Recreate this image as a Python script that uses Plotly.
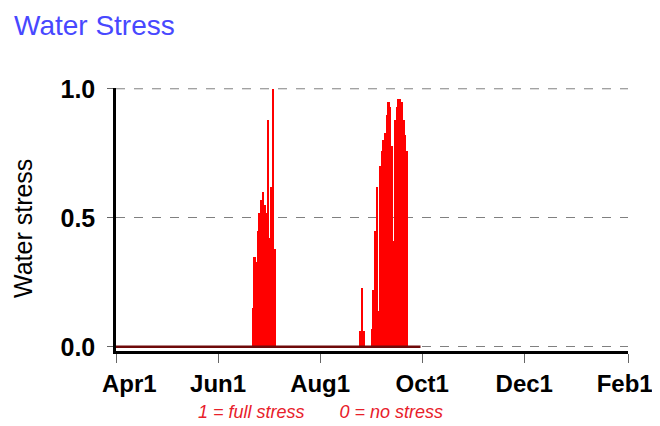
import plotly.graph_objects as go

# Daily water stress (1 = full stress, 0 = no stress); days not listed are 0
stress_dates = [
    "2001-06-22", "2001-06-23", "2001-06-24", "2001-06-25", "2001-06-26", "2001-06-27",
    "2001-06-28", "2001-06-29", "2001-06-30", "2001-07-01", "2001-07-02", "2001-07-03",
    "2001-07-04", "2001-07-05",
    "2001-08-25", "2001-08-26", "2001-08-27",
    "2001-09-01", "2001-09-02", "2001-09-03", "2001-09-04", "2001-09-05", "2001-09-06",
    "2001-09-07", "2001-09-08", "2001-09-09", "2001-09-10", "2001-09-11", "2001-09-12",
    "2001-09-13", "2001-09-14", "2001-09-15", "2001-09-16", "2001-09-17", "2001-09-18",
    "2001-09-19", "2001-09-20", "2001-09-21", "2001-09-22",
]
stress_values = [
    0.15, 0.35, 0.33, 0.45, 0.52, 0.57,
    0.60, 0.55, 0.52, 0.88, 0.42, 0.62,
    1.00, 0.38,
    0.06, 0.23, 0.06,
    0.07, 0.22, 0.45, 0.62, 0.14, 0.70,
    0.76, 0.80, 0.83, 0.90, 0.95, 0.93,
    0.78, 0.41, 0.88, 0.93, 0.96, 0.96,
    0.95, 0.88, 0.82, 0.76,
]
baseline_dates = ["2001-04-01", "2001-09-30"]
baseline_values = [0, 0]

tick_dates = ["2001-04-01", "2001-06-01", "2001-08-01", "2001-10-01", "2001-12-01", "2002-02-01"]
tick_labels = ["&nbsp;&nbsp;&nbsp;&nbsp;Apr1", "Jun1", "Aug1", "Oct1", "Dec1", "Feb1&nbsp;"]
y_ticks = [0.0, 0.5, 1.0]
y_tick_labels = ["0.0", "0.5", "1.0"]

FONT = "Liberation Sans, Arial, sans-serif"
# the page body adds an 8px offset; size the figure so it fills the 660x426 window
OFF = 8
W, H = 660 - OFF, 426 - OFF
ML, MR, MT, MB = 116 - OFF, 32, 88 - OFF, 75
PW, PH = W - ML - MR, H - MT - MB


def px(x):
    return (x - OFF - ML) / PW


def py(y):
    return (H - MB - (y - OFF)) / PH


fig = go.Figure()
fig.add_trace(go.Bar(
    x=stress_dates, y=stress_values,
    width=86400000 * 1.08,
    marker=dict(color="#ff0000", line=dict(color="#ff2a2a", width=0)),
    showlegend=False,
))
fig.add_trace(go.Scatter(
    x=baseline_dates, y=baseline_values, mode="lines",
    line=dict(color="#6e0a0a", width=2.5), showlegend=False,
))

fig.update_layout(
    width=W, height=H,
    margin=dict(l=ML, r=MR, t=MT, b=MB),
    paper_bgcolor="white", plot_bgcolor="white",
    bargap=0,
    font=dict(family=FONT, color="black"),
    shapes=[
        dict(type="line", xref="paper", yref="y", x0=0, x1=1, y0=y_ticks[-1], y1=y_ticks[-1],
             line=dict(color="#808080", width=1, dash="dash"), layer="below"),
    ],
    annotations=[
        dict(text="Water Stress", x=px(12), y=py(25), xref="paper", yref="paper",
             showarrow=False, font=dict(size=28, color="#4848ff", family=FONT),
             xanchor="left", yanchor="middle"),
        dict(text="1 = full stress&nbsp;&nbsp;&nbsp;&nbsp;&nbsp;&nbsp;&nbsp;0 = no stress",
             xref="paper", yref="paper",
             x=px(320), y=py(412), showarrow=False,
             font=dict(size=18, color="#e8202a", family=FONT, style="italic"),
             xanchor="center", yanchor="middle"),
        dict(text="Water stress", xref="paper", yref="paper",
             x=px(23), y=py(229), showarrow=False, textangle=-90,
             font=dict(size=25, color="black", family=FONT),
             xanchor="center", yanchor="middle"),
    ],
)

fig.update_xaxes(
    type="date",
    range=["2001-04-01", "2002-02-01"],
    tickvals=tick_dates, ticktext=tick_labels,
    showgrid=False, zeroline=False, automargin=False,
    showline=True, linecolor="black", linewidth=2.5,
    ticks="outside", ticklen=9, tickwidth=1, tickcolor="#666",
    ticklabeloverflow="allow",
    tickfont=dict(size=24, color="black", family=FONT, weight="bold"),
)
fig.update_yaxes(
    range=[-0.016, 1.003],
    tickvals=y_ticks, ticktext=y_tick_labels,
    showgrid=True, gridcolor="#808080", griddash="dash", gridwidth=1,
    zeroline=False, automargin=False,
    showline=True, linecolor="black", linewidth=2.5,
    ticks="outside", ticklen=6, tickcolor="#666",
    ticklabelstandoff=7,
    tickfont=dict(size=25, color="black", family=FONT, weight="bold"),
)

fig.write_html("out.html")
